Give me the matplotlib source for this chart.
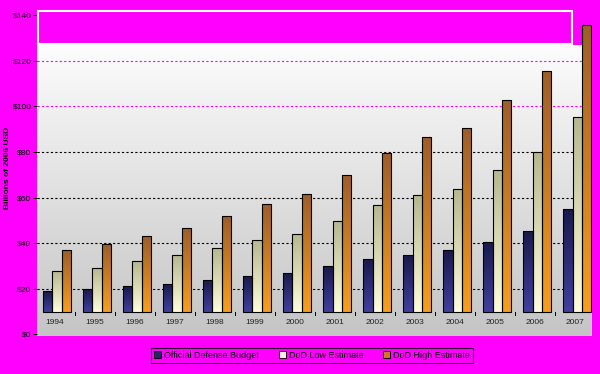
import numpy as np
import matplotlib
matplotlib.use("Agg")
import matplotlib.pyplot as plt
from matplotlib.patches import Patch, Rectangle

plt.rcParams['font.family'] = ['Liberation Sans', 'DejaVu Sans']

years = ['1994', '1995', '1996', '1997', '1998', '1999', '2000',
         '2001', '2002', '2003', '2004', '2005', '2006', '2007']
official = [19.0, 19.8, 21.0, 22.3, 23.7, 25.7, 27.1,
            29.8, 33.2, 34.9, 37.1, 40.6, 45.3, 54.9]
dod_low = [27.7, 29.1, 32.3, 34.6, 38.0, 41.4, 44.0,
           49.7, 56.7, 61.0, 63.6, 71.9, 80.0, 95.3]
dod_high = [37.0, 39.8, 43.3, 46.7, 51.9, 57.1, 61.4,
            69.8, 79.6, 86.7, 90.6, 102.7, 115.4, 135.4]
series_names = ['Official Defense Budget', 'DoD Low Estimate', 'DoD High Estimate']
yticks = [0, 20, 40, 60, 80, 100, 120, 140]
ytick_labels = ['$0', '$20', '$40', '$60', '$80', '$100', '$120', '$140']

MAGENTA = '#ff00ff'
FLOOR = 10          # visual floor the columns stand on (3d look)
W = 0.23
# (top colour, bottom colour) of each series' gradient
grads = [((0.10, 0.10, 0.30), (0.25, 0.25, 0.62)),
         ((0.72, 0.72, 0.56), (1.00, 0.99, 0.86)),
         ((0.62, 0.37, 0.16), (0.97, 0.62, 0.12))]
legend_cols = ['#26265e', '#f4f2d8', '#c87a28']

fig = plt.figure(figsize=(6, 3.74), dpi=100, facecolor=MAGENTA)
ax = fig.add_axes([37/600, 38/374, 555/600, 321/374])
ax.set_facecolor(MAGENTA)

xmin, xmax = -0.45, 13.42
ymin, ymax = -0.7, 140

# plot area background gradient (top part is keyed out to magenta)
bg_top = 126.5
g = np.linspace(0, 1, 256)[:, None]
c0 = np.array([0.99, 0.99, 0.99])
c1 = np.array([0.77, 0.77, 0.77])
bg = c0[None, None, :] * (1 - g[..., None]) + c1[None, None, :] * g[..., None]
bg = np.repeat(bg, 2, axis=1)
ax.imshow(bg, extent=(xmin, xmax, ymin, bg_top), aspect='auto', zorder=0,
          interpolation='bilinear')

# gridlines
for v in yticks[1:-1]:
    col = MAGENTA if v >= 100 else 'black'
    ax.axhline(v, color=col, ls=(0, (2, 2)), lw=0.8, zorder=1)


def grad_bar(x, top, ctop, cbot):
    r = ax.bar(x, top - FLOOR, W, bottom=FLOOR, facecolor='none',
               edgecolor='black', lw=0.8, zorder=4)[0]
    t = np.linspace(0, 1, 64)[:, None, None]
    img = np.array(ctop)[None, None, :] * (1 - t) + np.array(cbot)[None, None, :] * t
    img = np.repeat(img, 2, axis=1)
    im = ax.imshow(img, extent=(x - W/2, x + W/2, FLOOR, top), aspect='auto',
                   zorder=3, interpolation='bilinear')
    im.set_clip_path(r)


for s, vals in enumerate([official, dod_low, dod_high]):
    for i, v in enumerate(vals):
        grad_bar(i + (s - 1) * W + 0.05, v, *grads[s])

# category ticks and labels
for i in range(len(years) - 1):
    ax.plot([i + 0.5, i + 0.5], [FLOOR, FLOOR - 1.3], color='black', lw=0.7, zorder=2)
for i, yr in enumerate(years):
    ax.text(i, 5, yr, ha='center', va='center', fontsize=6, color='#222222')

ax.set_xlim(xmin, xmax)
ax.set_ylim(ymin, ymax)
ax.set_xticks([])
ax.set_yticks(yticks)
ax.set_yticklabels(ytick_labels, fontsize=6)
ax.tick_params(axis='y', length=3, width=0.7, pad=1)
for sp in ax.spines.values():
    sp.set_visible(False)

fig.text(0.013, 0.55, 'Billions of 2006 USD', rotation=90, ha='center', va='center',
         fontsize=6, fontweight='bold')

# white frame remnants at the top
fig.add_artist(Rectangle((38/600, 1 - 44/374), 534/600, 33/374, transform=fig.transFigure,
                         fill=False, edgecolor='white', lw=1.5))

handles = [Patch(facecolor=c, edgecolor='black', lw=0.6) for c in legend_cols]
leg = fig.legend(handles, series_names, loc='center', bbox_to_anchor=(0.52, 0.05),
                 ncol=3, fontsize=6.5, frameon=True, handlelength=0.8, handleheight=0.8,
                 handletextpad=0.3, columnspacing=2.2, borderpad=0.3, fancybox=False)
leg.get_frame().set_facecolor('none')
leg.get_frame().set_edgecolor('black')
leg.get_frame().set_linewidth(0.8)

fig.savefig('out.png', dpi=100, facecolor=MAGENTA)
